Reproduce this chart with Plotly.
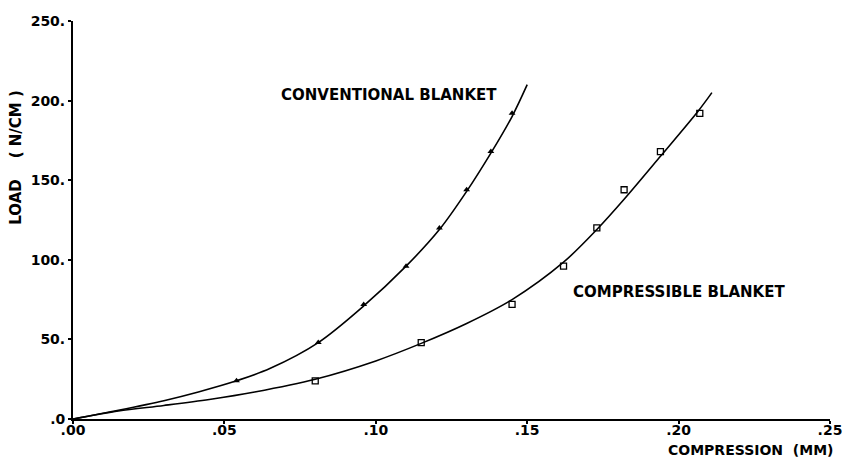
import plotly.graph_objects as go

# Measured points: load in N/cm against compression in mm
load = [24, 48, 72, 96, 120, 144, 168, 192]
conv_x = [0.054, 0.081, 0.096, 0.110, 0.121, 0.130, 0.138, 0.145]
comp_x = [0.080, 0.115, 0.145, 0.162, 0.173, 0.182, 0.194, 0.207]

# Fitted curves through each set of points
conv_curve_x = [0.0, 0.015, 0.030, 0.0414, 0.054, 0.065, 0.081, 0.096, 0.110, 0.121, 0.130, 0.138, 0.145, 0.150]
conv_curve_y = [0.0, 5.5, 11.5, 17.0, 24.0, 31.7, 48.0, 71.0, 96.0, 119.0, 143.0, 167.0, 190.0, 210.0]
comp_curve_x = [0.0, 0.015, 0.030, 0.045, 0.060, 0.080, 0.100, 0.115, 0.130, 0.145, 0.162, 0.173, 0.182, 0.194, 0.2065, 0.211]
comp_curve_y = [0.0, 5.0, 8.5, 12.3, 17.0, 25.0, 36.5, 47.5, 60.0, 75.0, 98.5, 119.0, 138.0, 165.0, 193.5, 205.0]

x_ticks = [0, 0.05, 0.10, 0.15, 0.20, 0.25]
x_tick_text = [".00", ".05", ".10", ".15", ".20", ".25"]
y_ticks = [0, 50, 100, 150, 200, 250]
y_tick_text = [".0", "50.", "100.", "150.", "200.", "250."]

FONT = "DejaVu Sans"
LABEL = dict(family=FONT, size=15, color="black", weight="bold")

fig = go.Figure()
for cx, cy in ((conv_curve_x, conv_curve_y), (comp_curve_x, comp_curve_y)):
    fig.add_trace(go.Scatter(x=cx, y=cy, mode="lines",
                             line=dict(color="black", width=1.6, shape="spline", smoothing=0.9),
                             hoverinfo="skip"))
fig.add_trace(go.Scatter(x=conv_x, y=load, mode="markers",
                         marker=dict(symbol="triangle-up", size=6, color="black")))
fig.add_trace(go.Scatter(x=comp_x, y=load, mode="markers",
                         marker=dict(symbol="square-open", size=6, color="black",
                                     line=dict(width=1.3, color="black"))))

fig.add_annotation(x=0.1408, y=203.6, xref="x", yref="y", text="CONVENTIONAL BLANKET",
                   showarrow=False, xanchor="right", yanchor="middle", font=LABEL)
fig.add_annotation(x=0.1646, y=79.6, xref="x", yref="y", text="COMPRESSIBLE BLANKET",
                   showarrow=False, xanchor="left", yanchor="middle", font=LABEL)
fig.add_annotation(x=1.007, y=-0.078, xref="paper", yref="paper",
                   text="COMPRESSION&nbsp;&nbsp;(MM)",
                   showarrow=False, xanchor="right", yanchor="middle",
                   font=dict(family=FONT, size=14, color="black", weight="bold"))
fig.add_annotation(x=-0.0756, y=0.656, xref="paper", yref="paper",
                   text="LOAD&nbsp;&nbsp;&nbsp;&nbsp;(&nbsp;N/CM&nbsp;)",
                   showarrow=False, textangle=-90, xanchor="center", yanchor="middle", font=LABEL)

fig.update_layout(
    width=854, height=459,
    margin=dict(l=73, r=14, t=21, b=40),
    paper_bgcolor="white", plot_bgcolor="white",
    showlegend=False,
    font=dict(family=FONT, size=15, color="black"),
)
axis_style = dict(showgrid=False, zeroline=False, showline=True, linecolor="black", linewidth=2,
                  ticks="outside", ticklen=3, tickwidth=1.5, tickcolor="black",
                  tickfont=dict(family=FONT, size=14, color="black", weight="bold"))
fig.update_xaxes(range=[0, 0.25], tickvals=x_ticks, ticktext=x_tick_text,
                 ticklabelstandoff=-6, **axis_style)
fig.update_yaxes(range=[0, 250], tickvals=y_ticks, ticktext=y_tick_text, **axis_style)

fig.write_html("out.html")
